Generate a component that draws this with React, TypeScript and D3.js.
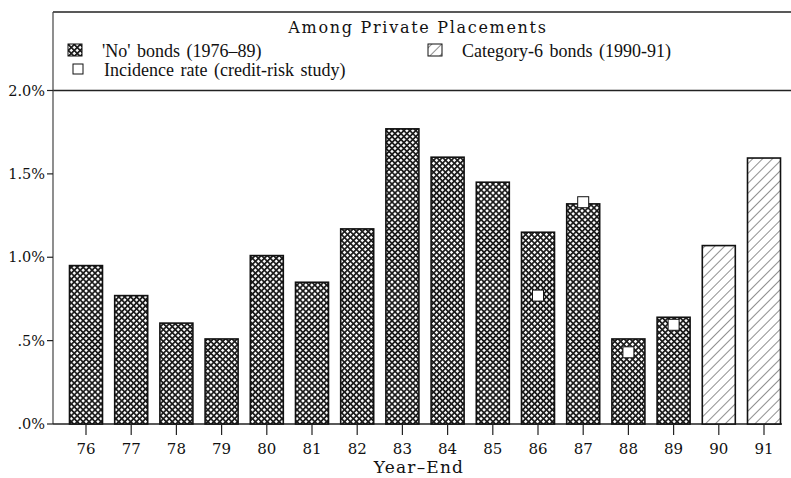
import React from "react";
import * as d3 from "d3";

const years = ["76","77","78","79","80","81","82","83","84","85","86","87","88","89","90","91"];
const rates = [0.95,0.77,0.605,0.51,1.01,0.85,1.17,1.77,1.60,1.45,1.15,1.32,0.51,0.64,1.07,1.595];
const category6 = ["90","91"];
const incidenceYears = ["86","87","88","89"];
const incidenceValues = [0.77,1.33,0.43,0.595];
const yTicks = [0, 0.5, 1.0, 1.5, 2.0];
const yTickLabels = [".0%", ".5%", "1.0%", "1.5%", "2.0%"];

const W = 791, H = 478;
const axisX = 53;
const y0 = 424, yTop = 90.5;

export default function App() {
  const x = d3.scaleBand<string>().domain(years).range([63.4, 786.6]).paddingInner(0.27).paddingOuter(0.135);
  const y = d3.scaleLinear().domain([0, 2]).range([y0, yTop]);
  const bw = x.bandwidth();
  const serif = "'DejaVu Serif', serif";
  const times = "'Liberation Serif', 'Times New Roman', serif";
  return (
    <svg width={W} height={H} style={{ position: "absolute", left: 0, top: 0, background: "#fff" }}>
      <defs>
        <pattern id="xh" width="4.2" height="4.2" patternUnits="userSpaceOnUse" patternTransform="rotate(45)">
          <rect width="4.2" height="4.2" fill="#1a1a1a" />
          <rect x="0.8" y="0.8" width="2.5" height="2.5" fill="#fff" />
        </pattern>
        <pattern id="hatch" width="7" height="7" patternUnits="userSpaceOnUse" patternTransform="rotate(45)">
          <rect width="7" height="7" fill="#fff" />
          <line x1="0" y1="0" x2="0" y2="7" stroke="#222" strokeWidth="1" />
        </pattern>
      </defs>
      {/* frame */}
      <line x1={axisX} x2={W} y1={12} y2={12} stroke="#222" strokeWidth={1.3} />
      <line x1={axisX} x2={W} y1={yTop} y2={yTop} stroke="#222" strokeWidth={1.3} />
      <line x1={axisX} x2={axisX} y1={12} y2={y0} stroke="#444" strokeWidth={1.2} />
      <line x1={axisX} x2={782} y1={y0} y2={y0} stroke="#222" strokeWidth={1.3} />
      {/* legend */}
      <text x={418} y={33} textAnchor="middle" fontFamily={serif} fontSize={16} letterSpacing={1.7} fill="#111">Among Private Placements</text>
      <rect x={68} y={44} width={14} height={12} fill="url(#xh)" stroke="#111" strokeWidth={1} />
      <text x={102} y={57} fontFamily={times} fontSize={18} wordSpacing={2} fill="#111">'No' bonds (1976–89)</text>
      <rect x={73} y={64} width={10} height={10} fill="#fff" stroke="#111" strokeWidth={1} />
      <text x={104} y={76} fontFamily={times} fontSize={18} wordSpacing={2} fill="#111">Incidence rate (credit-risk study)</text>
      <rect x={428} y={44} width={14} height={12} fill="url(#hatch)" stroke="#111" strokeWidth={1} />
      <text x={462} y={57} fontFamily={times} fontSize={18} wordSpacing={2} fill="#111">Category-6 bonds (1990-91)</text>
      {/* y ticks */}
      {yTicks.map((t, i) => (
        <g key={t}>
          <line x1={47} x2={axisX} y1={y(t)} y2={y(t)} stroke="#222" strokeWidth={1.2} />
          <text x={45} y={y(t) + 5} textAnchor="end" fontFamily={serif} fontSize={14.5} fill="#111">{yTickLabels[i]}</text>
        </g>
      ))}
      {/* bars */}
      {years.map((yr, i) => (
        <rect key={yr} x={x(yr)} y={y(rates[i])} width={bw} height={y0 - y(rates[i])}
          fill={category6.includes(yr) ? "url(#hatch)" : "url(#xh)"} stroke="#111" strokeWidth={1.6} />
      ))}
      {/* incidence markers */}
      {incidenceYears.map((yr, i) => (
        <rect key={yr} x={(x(yr) as number) + bw / 2 - 5.5} y={y(incidenceValues[i]) - 5.5} width={11} height={11}
          fill="#fff" stroke="#111" strokeWidth={1} />
      ))}
      {/* x ticks */}
      {years.map((yr) => {
        const cx = (x(yr) as number) + bw / 2;
        return (
          <g key={yr}>
            <line x1={cx} x2={cx} y1={y0} y2={y0 + 11} stroke="#222" strokeWidth={1.2} />
            <text x={cx} y={454} textAnchor="middle" fontFamily={serif} fontSize={15} fill="#111">{yr}</text>
          </g>
        );
      })}
      <text x={419} y={473} textAnchor="middle" fontFamily={serif} fontSize={17} letterSpacing={1.2} fill="#111">Year–End</text>
    </svg>
  );
}
